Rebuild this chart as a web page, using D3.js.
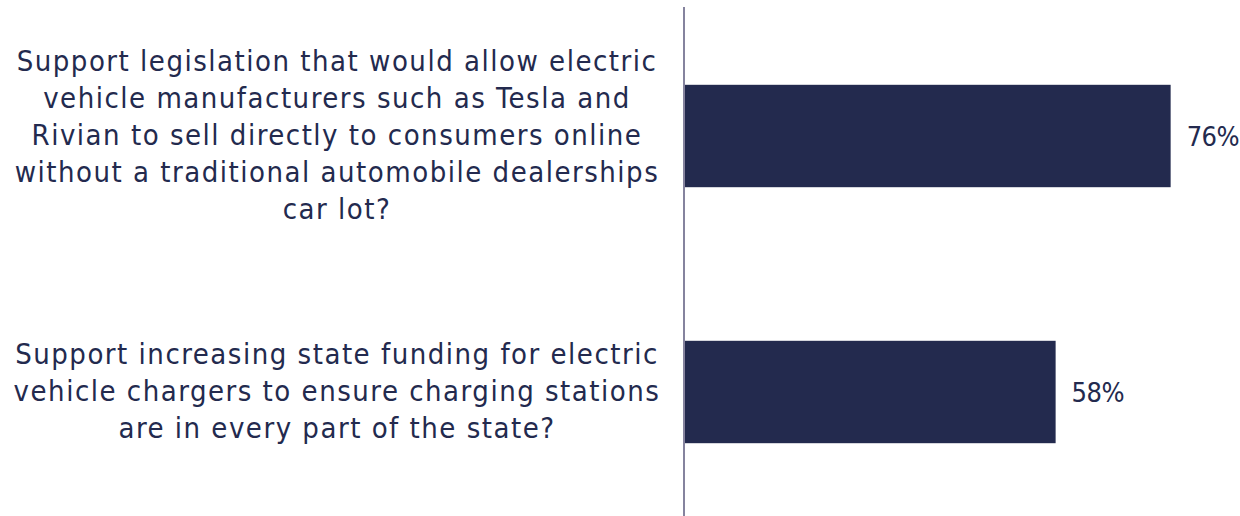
<!DOCTYPE html>
<html>
<head>
<meta charset="utf-8">
<script src="https://cdn.jsdelivr.net/npm/d3@7"></script>
<style>
  body { margin: 0; background: #fff; }
  svg { display: block; }
  text { font-family: "DejaVu Sans Condensed", "DejaVu Sans", sans-serif; fill: #232a4e; }
</style>
</head>
<body>
<svg></svg>
<script>
const questions = ['q1', 'q2'];
const labelLines = [
    ['Support legislation that would allow electric',
     'vehicle manufacturers such as Tesla and',
     'Rivian to sell directly to consumers online',
     'without a traditional automobile dealerships',
     'car lot?'],
    ['Support increasing state funding for electric',
     'vehicle chargers to ensure charging stations',
     'are in every part of the state?']
];
const values = [76, 58];

const width = 1240;
const height = 516;
const axisX = 685;
const labelCenter = 337;
const lineHeight = 37;

const svg = d3.select('svg')
    .attr('width', width)
    .attr('height', height);

const xScale = d3.scaleLinear()
    .domain([0, 100])
    .range([axisX, axisX + 639]);

const yScale = d3.scaleBand()
    .domain(questions)
    .range([8, 520])
    .paddingInner(0.6)
    .paddingOuter(0.3);

svg.selectAll('rect.bar')
    .data(values)
    .enter()
    .append('rect')
    .attr('class', 'bar')
    .attr('x', xScale(0))
    .attr('y', (d, i) => yScale(questions[i]))
    .attr('width', d => xScale(d) - xScale(0))
    .attr('height', yScale.bandwidth())
    .attr('fill', '#232a4e');

svg.selectAll('text.value')
    .data(values)
    .enter()
    .append('text')
    .attr('class', 'value')
    .attr('x', d => xScale(d) + 16)
    .attr('y', (d, i) => yScale(questions[i]) + yScale.bandwidth() / 2)
    .attr('dy', '0.36em')
    .style('font-size', '27px')
    .style('letter-spacing', '-0.5px')
    .text(d => d + '%');

// question labels, centered block to the left of the axis
labelLines.forEach((lines, i) => {
    const cy = yScale(questions[i]) + yScale.bandwidth() / 2 - 1.5;
    const top = cy - (lines.length - 1) * lineHeight / 2;
    const t = svg.append('text')
        .attr('text-anchor', 'middle')
        .style('font-size', '29px')
        .style('letter-spacing', '1.5px');
    lines.forEach((line, j) => {
        t.append('tspan')
            .attr('x', labelCenter)
            .attr('y', top + j * lineHeight)
            .attr('dy', '0.36em')
            .text(line);
    });
});

svg.append('line')
    .attr('x1', axisX - 1)
    .attr('x2', axisX - 1)
    .attr('y1', 7)
    .attr('y2', height)
    .attr('stroke', '#5c5a7e')
    .attr('stroke-width', 1.5);
</script>
</body>
</html>
